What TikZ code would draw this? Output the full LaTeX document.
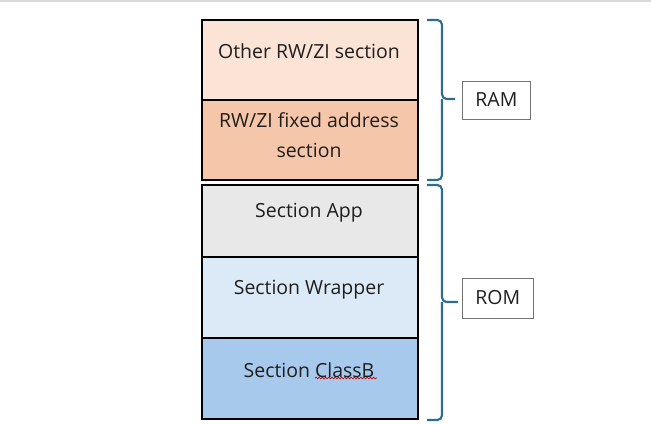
\documentclass[tikz,border=0pt]{standalone}
\usepackage{fontspec}
\setmainfont{Open Sans}
\usetikzlibrary{decorations.pathmorphing}
\definecolor{cOther}{HTML}{FBE3D6}
\definecolor{cFixed}{HTML}{F6C6AA}
\definecolor{cApp}{HTML}{E8E8E8}
\definecolor{cWrap}{HTML}{DCEAF7}
\definecolor{cClassB}{HTML}{A6C9EC}
\definecolor{cBrace}{HTML}{2C6C8C}
\definecolor{cText}{HTML}{1E1E1E}
\tikzset{
  secbox/.style={draw=black, line width=1.5pt, minimum width=162pt, anchor=north west, inner sep=0pt, outer sep=0pt},
  sectext/.style={text=cText, font=\fontsize{14.6}{18}\selectfont, align=center, inner sep=0pt},
  bracepath/.style={draw=cBrace, line width=1.6pt, rounded corners=3.5pt},
  memlabel/.style={draw=black!55, line width=0.6pt, minimum width=51pt, minimum height=28.5pt, text=cText, font=\fontsize{14.6}{17}\selectfont, inner sep=0pt}
}
\begin{document}
\begin{tikzpicture}[x=0.75pt,y=-0.75pt]
\useasboundingbox (0,0) rectangle (651,425);
\draw[black!15, line width=1.2pt] (0,1) -- (651,1);
% boxes
\node[secbox, fill=cOther, minimum height=60pt] (other) at (201.5,20) {};
\node[secbox, fill=cFixed, minimum height=60pt] (fixed) at (201.5,100) {};
\node[secbox, fill=cApp, minimum height=54pt] (app) at (201.5,185) {};
\node[secbox, fill=cWrap, minimum height=60.75pt] (wrap) at (201.5,257) {};
\node[secbox, fill=cClassB, minimum height=60.75pt] (classb) at (201.5,338) {};
% texts
\node[sectext] (tother) at (309,51) {Other RW/ZI section};
\node[sectext] (tfixed) at (309,135.5) {RW/ZI fixed address\\[4.5pt]section};
\node[sectext] (tapp) at (309,213) {Section App};
\node[sectext] (twrap) at (309,289.5) {Section Wrapper};
\node[sectext] (tclassb) at (309,370) {Section ClassB};
\coordinate (wa) at (315,378);
\coordinate (wb) at (377,378);
\draw[red!80!black, line width=0.5pt, decorate, decoration={snake, amplitude=0.6pt, segment length=2.4pt}] (wa) -- (wb);
% braces
\coordinate (ramtop) at (427,20);
\coordinate (rambot) at (427,180);
\coordinate (ramtip) at (455,99);
\draw[bracepath] (ramtop) -- (442,20) -- (442,99) -- (ramtip);
\draw[bracepath] (rambot) -- (442,180) -- (442,99);
\coordinate (romtop) at (427,185);
\coordinate (rombot) at (427,420);
\coordinate (romtip) at (458,302);
\draw[bracepath] (romtop) -- (442,185) -- (442,302) -- (romtip);
\draw[bracepath] (rombot) -- (442,420) -- (442,302);
% labels
\node[memlabel, anchor=west] (ram) at (462,100) {RAM};
\node[memlabel, anchor=west, minimum width=53pt, minimum height=30pt] (rom) at (462,298) {ROM};
\end{tikzpicture}
\end{document}
